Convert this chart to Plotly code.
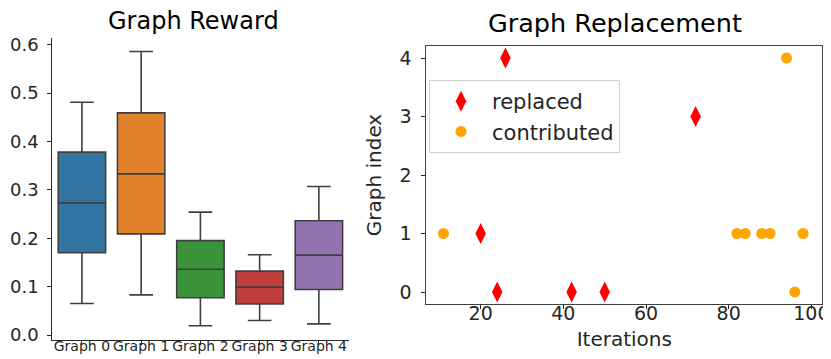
import plotly.graph_objects as go

# ---- data ----
categories = ["Graph 0", "Graph 1", "Graph 2", "Graph 3", "Graph 4"]
lower_whisker = [0.065, 0.083, 0.019, 0.030, 0.023]
q1_vals = [0.170, 0.209, 0.077, 0.064, 0.094]
median_vals = [0.273, 0.333, 0.136, 0.099, 0.165]
q3_vals = [0.378, 0.459, 0.195, 0.132, 0.236]
upper_whisker = [0.481, 0.586, 0.254, 0.166, 0.307]
box_colors = ["#3274a1", "#e1812c", "#3a923a", "#c03d3e", "#9372b2"]

replaced_iter = [20, 24, 26, 42, 50, 72]
replaced_idx = [1, 0, 4, 0, 0, 3]
contrib_iter = [11, 82, 84, 88, 90, 94, 96, 98]
contrib_idx = [1, 1, 1, 1, 1, 4, 0, 1]

W, H = 831, 359
FONT = "DejaVu Sans"
TXT = "#262626"

fig = go.Figure()

for i, cat in enumerate(categories):
    fig.add_trace(go.Box(
        x=[cat], q1=[q1_vals[i]], median=[median_vals[i]], q3=[q3_vals[i]],
        lowerfence=[lower_whisker[i]], upperfence=[upper_whisker[i]],
        fillcolor=box_colors[i], line=dict(color="#3f3f3f", width=1.6),
        width=0.8, whiskerwidth=0.5, boxpoints=False, showlegend=False,
        xaxis="x", yaxis="y", hoverinfo="skip",
    ))

fig.add_trace(go.Scatter(
    x=replaced_iter, y=replaced_idx, mode="markers", name="replaced",
    marker=dict(symbol="diamond-tall", color="red", size=15, line=dict(width=0)),
    xaxis="x2", yaxis="y2",
))
fig.add_trace(go.Scatter(
    x=contrib_iter, y=contrib_idx, mode="markers", name="contributed",
    marker=dict(symbol="circle", color="orange", size=11, line=dict(width=0)),
    xaxis="x2", yaxis="y2",
))

def px_x(p):
    return p / W

def px_y(p):
    return (H - p) / H

fig.update_layout(
    width=W, height=H,
    margin=dict(l=0, r=0, t=0, b=0),
    paper_bgcolor="white", plot_bgcolor="white",
    font=dict(family=FONT, color=TXT),
    boxmode="overlay",
    xaxis=dict(
        domain=[px_x(44.3), px_x(340.5)], anchor="y",
        type="category", categoryorder="array", categoryarray=categories,
        range=[-0.5, 4.5], showline=True, linecolor="#262626", linewidth=1,
        ticks="outside", ticklen=4, tickcolor="#262626", tickwidth=1,
        tickfont=dict(size=14, color=TXT), showgrid=False, zeroline=False,
        tickangle=0, ticklabelstandoff=-11, automargin=False,
    ),
    yaxis=dict(
        domain=[px_y(332), px_y(30)], anchor="x",
        range=[-0.0103, 0.6138], tickvals=[0, 0.1, 0.2, 0.3, 0.4, 0.5, 0.6],
        ticktext=["0.0", "0.1", "0.2", "0.3", "0.4", "0.5", "0.6"],
        showline=True, linecolor="#262626", linewidth=1,
        ticks="outside", ticklen=4, tickcolor="#262626", tickwidth=1,
        tickfont=dict(size=18, color=TXT), showgrid=False, zeroline=False,
        ticklabelstandoff=5, automargin=False,
    ),
    xaxis2=dict(
        domain=[px_x(418.3), px_x(814.3)], anchor="y2",
        range=[6.85, 102.65], tickvals=[20, 40, 60, 80, 100],
        showline=True, mirror=True, linecolor="#404040", linewidth=1,
        ticks="outside", ticklen=4, tickcolor="#262626", tickwidth=1,
        tickfont=dict(size=19, color=TXT), showgrid=False, zeroline=False,
        ticklabelstandoff=-12,
        title=dict(text="Iterations", font=dict(size=20, color=TXT), standoff=9),
        automargin=False,
    ),
    yaxis2=dict(
        domain=[px_y(295.7), px_y(38.3)], anchor="x2",
        range=[-0.2, 4.2], tickvals=[0, 1, 2, 3, 4],
        showline=True, mirror=True, linecolor="#404040", linewidth=1,
        ticks="outside", ticklen=4, tickcolor="#262626", tickwidth=1,
        tickfont=dict(size=19, color=TXT), showgrid=False, zeroline=False,
        ticklabelstandoff=6,
        title=dict(text="Graph index", font=dict(size=20, color=TXT), standoff=12),
        automargin=False,
    ),
    legend=dict(
        x=px_x(421), y=px_y(72), xanchor="left", yanchor="top",
        bgcolor="rgba(255,255,255,0.8)", bordercolor="#d0d0d0", borderwidth=1,
        font=dict(size=21, color=TXT), itemwidth=52,
    ),
    annotations=[
        dict(text="Graph Reward", x=px_x(185), y=1.0, xref="paper", yref="paper",
             xanchor="center", yanchor="top", showarrow=False, yshift=3,
             font=dict(size=24, color="black")),
        dict(text="Graph Replacement", x=px_x(607), y=1.0, xref="paper", yref="paper",
             xanchor="center", yanchor="top", showarrow=False, yshift=2,
             font=dict(size=25.5, color="black")),
    ],
)

fig.write_html("out.html")
